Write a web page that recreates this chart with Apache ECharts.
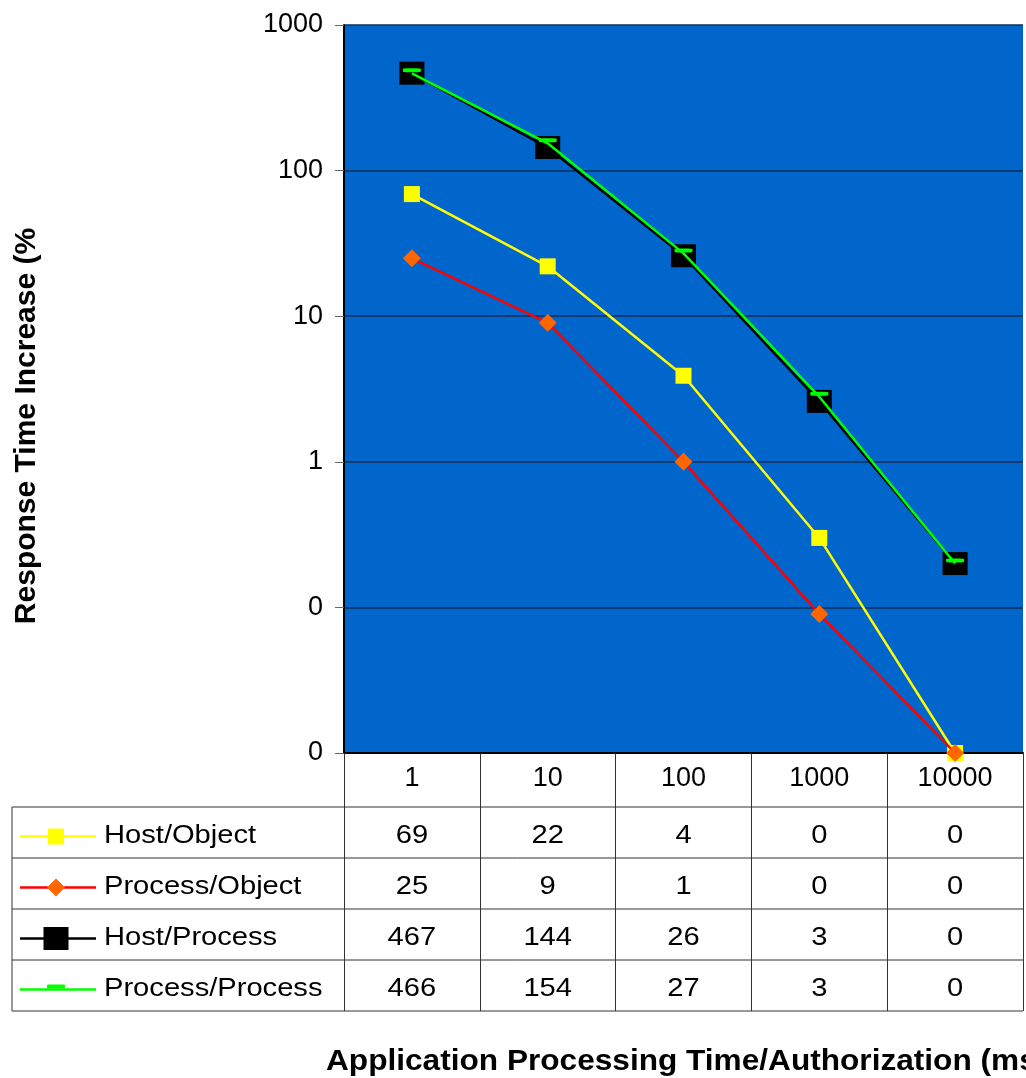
<!DOCTYPE html>
<html>
<head>
<meta charset="utf-8">
<script src="https://cdn.jsdelivr.net/npm/echarts/dist/echarts.min.js"></script>
<style>
html,body{margin:0;padding:0;background:#ffffff;}
#chart{width:1026px;height:1078px;}
</style>
</head>
<body>
<div id="chart"></div>
<script>
// ---- data ----
const categories = ['1', '10', '100', '1000', '10000'];
const seriesNames = ['Host/Object', 'Process/Object', 'Host/Process', 'Process/Process'];
const hostObject = [69, 22, 3.9, 0.3, 0.01];
const processObject = [25, 9, 1, 0.09, 0.01];
const hostProcess = [467, 144, 26, 2.6, 0.2];
const processProcess = [466, 154, 27, 2.8, 0.2];
const yAxisMin = 0.01;
const yAxisMax = 1000;
const yAxisTitle = 'Response Time Increase (%';
const xAxisTitle = 'Application Processing Time/Authorization (ms';

// ---- styling ----
const FONT = '"Liberation Sans", Arial, sans-serif';
const seriesData = [hostObject, processObject, hostProcess, processProcess];
const looks = [
  { line: '#FFFF00', fill: '#FFFF00', symbol: 'rect', size: [16, 16], offset: [0, 0] },
  { line: '#FF0000', fill: '#FF6600', symbol: 'diamond', size: [18, 18], offset: [0, 0] },
  { line: '#000000', fill: '#000000', symbol: 'rect', size: [25, 23], offset: [0, 0] },
  { line: '#00FF00', fill: '#00FF00', symbol: 'roundRect', size: [18, 4], offset: [0, -3] }
];

const chart = echarts.init(document.getElementById('chart'), null, { renderer: 'canvas' });

const option = {
  animation: false,
  backgroundColor: '#ffffff',
  grid: {
    left: 344, top: 25, right: 3, bottom: 325,
    show: true, backgroundColor: '#0066CC', borderWidth: 0,
    containLabel: false, outerBoundsMode: 'none'
  },
  xAxis: {
    type: 'category',
    data: categories,
    boundaryGap: true,
    axisLine: { show: true, lineStyle: { color: '#000000', width: 2 } },
    axisTick: { show: true, interval: 0, alignWithLabel: false, length: 258, lineStyle: { color: '#333333', width: 1 } },
    axisLabel: { interval: 0, margin: 12, fontSize: 27, fontFamily: FONT, color: '#000000' },
    splitLine: { show: false }
  },
  yAxis: {
    type: 'log',
    logBase: 10,
    min: yAxisMin,
    max: yAxisMax,
    axisLine: { show: true, lineStyle: { color: '#000000', width: 2 } },
    axisTick: { show: true, length: 9, inside: false, lineStyle: { color: '#666666', width: 1 } },
    axisLabel: { margin: 21, fontSize: 27, fontFamily: FONT, color: '#000000',
      formatter: function (v) { return String(Math.round(v)); } },
    splitLine: { show: true, lineStyle: { color: '#0f2f5a', width: 1.5 } },
    minorTick: { show: false },
    minorSplitLine: { show: false }
  },
  series: seriesNames.map(function (name, i) {
    const lk = looks[i];
    return {
      name: name,
      type: 'line',
      data: seriesData[i],
      symbol: lk.symbol,
      symbolSize: lk.size,
      symbolOffset: lk.offset,
      showAllSymbol: true,
      clip: false,
      z: 2 + i,
      lineStyle: { color: lk.line, width: 2.5 },
      itemStyle: { color: lk.fill, borderWidth: 0, opacity: 1 },
      emphasis: { disabled: true }
    };
  })
};

chart.setOption(option);

// ---- data table built from the series arrays ----
const centers = categories.map(function (c, i) { return chart.convertToPixel({ xAxisIndex: 0 }, i); });
const band = centers[1] - centers[0];
const rightEdge = centers[centers.length - 1] + band / 2;
const tableLeft = 12;
const rowTop = 807;
const rowH = 51;
const LINE_C = '#333333';

const g = [];
for (let k = 0; k <= seriesNames.length; k++) {
  const y = rowTop + k * rowH;
  g.push({ type: 'line', shape: { x1: tableLeft, y1: y, x2: rightEdge, y2: y }, style: { stroke: LINE_C, lineWidth: 1 }, z: 10 });
}
g.push({ type: 'line', shape: { x1: tableLeft, y1: rowTop, x2: tableLeft, y2: rowTop + rowH * seriesNames.length }, style: { stroke: LINE_C, lineWidth: 1 }, z: 10 });

seriesNames.forEach(function (name, i) {
  const lk = looks[i];
  const cy = rowTop + i * rowH + rowH / 2 + 3;
  const mx = 56;
  g.push({ type: 'line', shape: { x1: 20, y1: cy + 1, x2: 96, y2: cy + 1 }, style: { stroke: lk.line, lineWidth: 2.5 }, z: 11 });
  const w = lk.size[0], h = lk.size[1];
  if (lk.symbol === 'diamond') {
    g.push({ type: 'polygon', shape: { points: [[mx, cy + 1 - h / 2], [mx + w / 2, cy + 1], [mx, cy + 1 + h / 2], [mx - w / 2, cy + 1]] }, style: { fill: lk.fill }, z: 12 });
  } else {
    g.push({ type: 'rect', shape: { x: mx - w / 2, y: cy + 1 - h / 2 + lk.offset[1], width: w, height: h, r: lk.symbol === 'roundRect' ? 1 : 0 }, style: { fill: lk.fill }, z: 12 });
  }
  g.push({ type: 'text', x: 104, y: cy, scaleX: 1.12, z: 12,
    style: { text: name, fontSize: 26, fontFamily: FONT, fill: '#000000', textAlign: 'left', textVerticalAlign: 'middle' } });
  seriesData[i].forEach(function (v, j) {
    g.push({ type: 'text', x: centers[j], y: cy, scaleX: 1.12, z: 12,
      style: { text: String(Math.round(v)), fontSize: 26, fontFamily: FONT, fill: '#000000', textAlign: 'center', textVerticalAlign: 'middle' } });
  });
});

// axis titles
g.push({ type: 'text', x: 27, y: 426, rotation: Math.PI / 2, z: 12,
  style: { text: yAxisTitle, fontSize: 30, fontWeight: 'bold', fontFamily: FONT, fill: '#000000', textAlign: 'center', textVerticalAlign: 'middle' } });
g.push({ type: 'text', x: 326, y: 1062, scaleX: 1.09, z: 12,
  style: { text: xAxisTitle, fontSize: 29, fontWeight: 'bold', fontFamily: FONT, fill: '#000000', textAlign: 'left', textVerticalAlign: 'middle' } });

chart.setOption({ graphic: { elements: g } });
</script>
</body>
</html>
